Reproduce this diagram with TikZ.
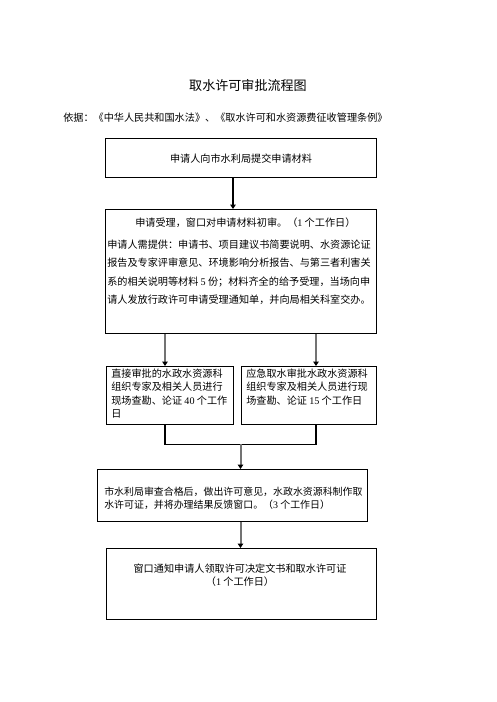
\documentclass[tikz,border=0pt]{standalone}
\usepackage{fontspec}
\setmainfont{Noto Sans CJK SC}
\newfontfamily\lat{Liberation Serif}
\usetikzlibrary{arrows.meta,calc}
\begin{document}
\begin{tikzpicture}[x=0.75pt,y=-0.75pt,
  box/.style={draw=black, line width=0.8pt, inner sep=0pt, anchor=north west},
  txt/.style={inner sep=0pt, font=\fontsize{7.6pt}{10pt}\selectfont},
  tip/.style={-{Triangle[length=3.2pt,width=4pt,color=black]}},
  thinarrow/.style={draw=black, line width=0.8pt, tip},
  garrow/.style={draw=black!55, line width=1.5pt, tip},
  joinline/.style={draw=black, line width=0.8pt}]
\useasboundingbox (0,0) rectangle (496,702);

\node[inner sep=0pt, font=\fontsize{9.8pt}{12pt}\selectfont] (title) at (248,85) {取水许可审批流程图};
\node[txt, anchor=west] (basis) at (63,118) {依据：《中华人民共和国水法》、《取水许可和水资源费征收管理条例》};

\node[box, minimum width=203.25pt, minimum height=29.25pt] (b1) at (105,138) {};
\node[txt] (t1) at (241,159) {申请人向市水利局提交申请材料};

\node[box, minimum width=203.25pt, minimum height=93pt] (b2) at (105,209) {};
\node[txt, anchor=north west, align=left, font=\fontsize{7.6pt}{13.9pt}\selectfont] (t2) at (107,218)
  {\hspace*{21pt}申请受理，窗口对申请材料初审。（{\lat 1} 个工作日）\\[1.9pt]
   申请人需提供：申请书、项目建议书简要说明、水资源论证\\
   报告及专家评审意见、环境影响分析报告、与第三者利害关\\
   系的相关说明等材料 {\lat 5} 份；材料齐全的给予受理，当场向申\\
   请人发放行政许可申请受理通知单，并向局相关科室交办。};

\node[box, minimum width=95.25pt, minimum height=43.5pt] (b3) at (106,366) {};
\node[txt, anchor=north west, align=left] (t3) at (111,368.5)
  {直接审批的水政水资源科\\组织专家及相关人员进行\\现场查勘、论证 {\lat 40} 个工作\\日};

\node[box, minimum width=101.25pt, minimum height=43.5pt] (b4) at (241,366) {};
\node[txt, anchor=north west, align=left] (t4) at (246,368.5)
  {应急取水审批水政水资源科\\组织专家及相关人员进行现\\场查勘、论证 {\lat 15} 个工作日};

\node[box, minimum width=202.5pt, minimum height=39pt] (b5) at (97,469) {};
\node[txt, anchor=north west, align=left, font=\fontsize{7.45pt}{9.75pt}\selectfont] (t5) at (104,487)
  {市水利局审查合格后，做出许可意见，水政水资源科制作取\\水许可证，并将办理结果反馈窗口。（{\lat 3} 个工作日）};

\node[box, minimum width=202.5pt, minimum height=53.25pt] (b6) at (106,548) {};
\node[txt, anchor=north, align=center, font=\fontsize{7.6pt}{9.75pt}\selectfont] (t6) at (240,564)
  {窗口通知申请人领取许可决定文书和取水许可证\\（{\lat 1} 个工作日）};

% connectors
\coordinate (a1) at ($(b1.south west)+(128,0)$);
\draw[thinarrow] (a1) -- (a1 |- b2.north);

\coordinate (a3) at ($(b2.south west)+(60,0)$);
\coordinate (a4) at ($(b2.south west)+(211,0)$);
\draw[garrow] (a3) -- (a3 |- b3.north);
\draw[garrow] (a4) -- (a4 |- b4.north);

\coordinate (jl) at ($(b3.south west)+(59,19)$);
\coordinate (jr) at ($(b4.south west)+(75,19)$);
\draw[joinline] (jl |- b3.south) -- (jl) -- (jr) -- (jr |- b4.south);
\coordinate (jm) at ($(jl)!0.5!(jr)$);
\draw[garrow] (jm) -- (jm |- b5.north);
\draw[garrow] (jm |- b5.south) -- (jm |- b6.north);
\end{tikzpicture}
\end{document}
